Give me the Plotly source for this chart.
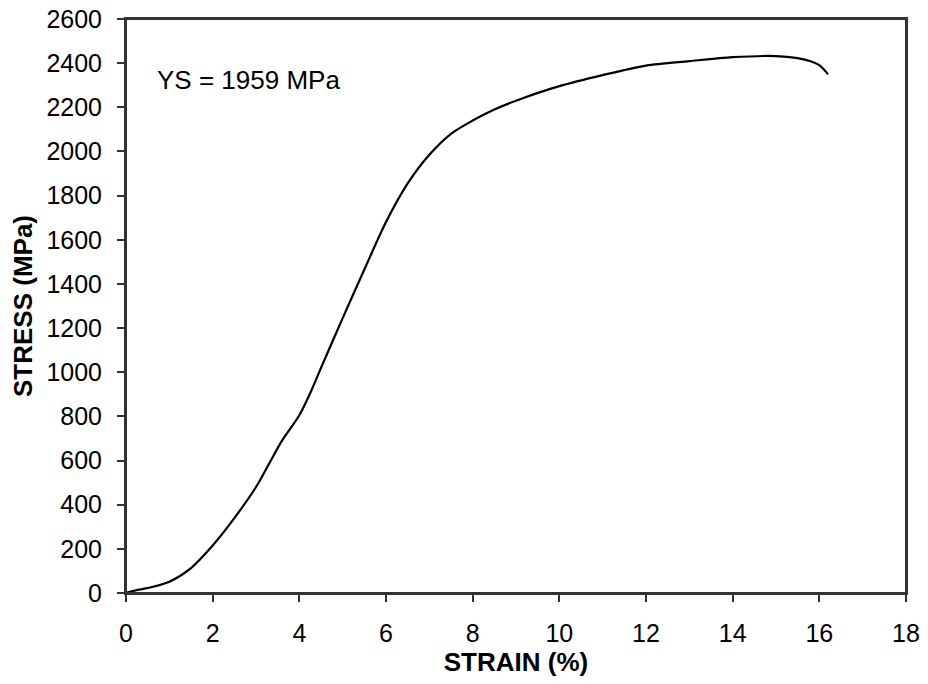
import plotly.graph_objects as go

strain = [0.0, 0.3, 0.6, 1.0, 1.5, 2.0, 2.5, 3.0, 3.3, 3.6, 4.0, 4.25, 4.5, 5.0, 5.5,
          6.0, 6.5, 7.0, 7.5, 8.0, 8.5, 9.0, 10.0, 11.0, 12.0, 13.0, 14.0, 15.0,
          15.5, 15.8, 16.0, 16.2]
stress = [0, 15, 27, 51, 113, 215, 339, 480, 585, 690, 805, 905, 1020, 1245, 1465,
          1680, 1855, 1985, 2080, 2140, 2190, 2230, 2296, 2346, 2389, 2409, 2427, 2432,
          2423, 2409, 2391, 2350]

x_ticks = [0, 2, 4, 6, 8, 10, 12, 14, 16, 18]
y_ticks = list(range(0, 2601, 200))

font_family = "Liberation Sans, Arial, sans-serif"
axis_color = "#333333"

fig = go.Figure()
fig.add_trace(go.Scatter(x=strain, y=stress, mode="lines",
                         line=dict(color="black", width=2.2, shape="spline", smoothing=0.8),
                         showlegend=False, hoverinfo="skip"))

fig.add_annotation(x=0.67, y=2323, xref="x", yref="y", text="YS = 1959 MPa",
                   showarrow=False, xanchor="left", yanchor="middle",
                   font=dict(family=font_family, size=26, color="black"))

# plot frame
fig.add_shape(type="rect", xref="paper", yref="paper", x0=0, y0=0, x1=1, y1=1,
              line=dict(color=axis_color, width=2), layer="above")

axis_common = dict(showgrid=False, zeroline=False, showline=True, linecolor=axis_color,
                   linewidth=2, mirror=True, ticks="outside", ticklen=7, tickwidth=1.5,
                   tickcolor=axis_color, automargin=False, ticklabeloverflow="allow",
                   tickfont=dict(family=font_family, size=25, color="black"))

fig.update_xaxes(range=[0, 18], tickvals=x_ticks, ticklabelstandoff=10,
                 title=dict(text="<b>STRAIN (%)</b>", standoff=2,
                            font=dict(family=font_family, size=26, color="black")),
                 **axis_common)
fig.update_yaxes(range=[0, 2600], tickvals=y_ticks, ticklabelstandoff=10,
                 title=dict(text="<b>STRESS (MPa)</b>", standoff=6,
                            font=dict(family=font_family, size=26, color="black")),
                 **axis_common)

fig.update_layout(width=928, height=684, plot_bgcolor="white", paper_bgcolor="white",
                  margin=dict(l=126, r=22, t=19, b=91))

fig.write_html("out.html", config={"displayModeBar": False},
               post_script="document.body.style.margin='0px';")
